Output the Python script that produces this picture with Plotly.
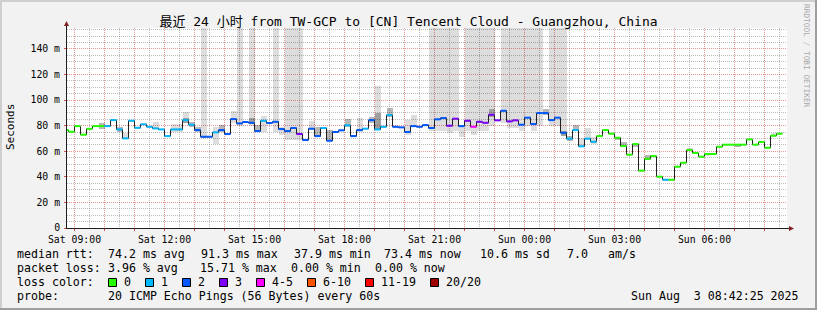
import numpy as np
import pandas as pd
import plotly.graph_objects as go

N = None
# ---------------- data (12-minute steps, first step starts Sat 2025-08-02 08:36) ----------------
median_ms = [76.5, 75.2, 79.6, 72.9, 77.5, 79.6, 79.6, 79.6, 84.3, 77.0,
             70.0, 83.8, 78.3, 81.0, 79.1, 77.8, 77.0, 71.8, 77.0, 77.0,
             84.3, 80.7, 76.5, 71.3, 71.3, 74.7, 76.5, 73.4, 85.1, 81.7,
             82.8, 82.2, 75.7, 83.8, 82.0, 83.0, 77.3, 75.7, 78.1, 73.4,
             68.7, 77.6, 71.8, 78.1, 68.2, 75.0, 76.3, 80.2, 71.8, 76.5,
             77.6, 84.3, 77.0, 79.1, 88.2, 79.1, 78.6, 75.0, 79.6, 79.1,
             80.4, 78.1, 84.9, 85.9, 79.9, 85.4, 79.6, 83.8, 79.1, 83.0,
             82.2, 88.5, 84.1, 91.6, 83.3, 84.1, 80.7, 86.2, 81.2, 89.8,
             89.8, 84.3, 86.2, 74.4, 69.8, 76.5, 63.8, 69.8, 67.4, 71.8,
             76.5, 73.7, 70.5, 64.0, 57.3, 65.6, 44.8, 54.1, 56.2, 40.1,
             37.7, 37.7, 47.9, 51.0, 60.9, 58.6, 55.7, 57.8, 57.8, 63.5,
             65.1, 65.1, 65.1, 65.1, 69.2, 65.1, 67.2, 62.7, 72.1, 73.7]

loss_pings = [0, 0, 0, 0, 0, 0, 0, 1, 1, 1,
              1, 1, 1, 1, 1, 1, 1, 1, 1, 1,
              1, 1, 2, 2, 2, 1, 2, 2, 2, 2,
              2, 2, 2, 1, 2, 2, 2, 2, 2, 3,
              2, 2, 2, 1, 2, 2, 2, 1, 2, 2,
              1, 2, 1, 1, 1, 2, 2, 2, 2, 2,
              2, 2, 2, 2, 3, 3, 2, 3, 4, 3,
              3, 3, 3, 2, 3, 3, 2, 2, 2, 2,
              2, 2, 2, 2, 1, 1, 1, 1, 1, 0,
              0, 0, 0, 0, 0, 0, 0, 0, 0, 0,
              1, 0, 0, 0, 0, 0, 0, 0, 0, 0,
              0, 0, 0, 0, 0, 0, 0, 0, 0, 0]

smoke_lo = [N, N, N, N, N, N, N, N, N, N,
            69.2, N, N, N, N, 77.0, N, N, 75.2, 75.2,
            81.7, N, N, 70.0, N, 66.0, N, N, 81.7, 80.0,
            N, 80.0, N, 75.2, N, 75.2, 72.6, 69.0, 69.0, 69.0,
            N, 76.5, N, N, N, N, N, N, N, 75.2,
            N, N, 76.5, N, N, N, N, 72.6, 79.1, N,
            N, 76.0, 76.0, 76.0, 73.9, 76.0, 71.3, 76.0, 72.6, 76.0,
            76.0, 80.0, N, 82.0, 78.0, 78.0, 76.0, 80.0, 76.0, 80.0,
            N, 80.0, 80.0, 72.0, N, N, 63.5, 70.0, 66.0, N,
            N, N, N, N, N, N, N, N, N, N,
            N, N, N, N, 60.0, N, N, 56.0, N, N,
            N, N, N, N, N, N, N, N, 72.0, N]
smoke_hi = [N, N, N, N, N, N, N, N, N, N,
            74.4, N, N, N, N, 83.0, N, N, 81.0, 81.0,
            90.3, N, N, 200, N, 79.0, N, N, 91.6, 200,
            N, 200, N, 87.7, N, 200, 79.0, 200, 200, 200,
            N, 83.8, N, N, N, N, N, N, N, 86.2,
            N, N, 110.6, N, N, N, N, 84.3, 88.2, N,
            N, 200, 200, 200, 200, 200, 80.0, 200, 200, 200,
            200, 200, N, 200, 200, 200, 200, 200, 200, 200,
            N, 200, 200, 200, N, N, 70.0, 77.8, 71.0, N,
            N, N, N, N, N, N, N, N, N, N,
            N, N, N, N, 62.5, N, N, 58.5, N, N,
            N, N, N, N, N, N, N, N, 74.0, N]
core_lo = [N, N, N, N, N, N, 77.3, N, N, 75.2,
           N, N, N, N, N, N, N, N, N, N,
           82.0, 79.0, 75.0, N, N, N, 75.2, N, N, N,
           N, 81.0, 75.2, N, N, N, N, N, N, N,
           N, N, 71.0, N, 68.2, N, N, 79.1, N, N,
           N, 82.0, 76.5, N, 86.9, N, N, N, N, N,
           N, N, N, N, N, N, N, N, N, N,
           N, 87.0, N, N, N, N, N, N, N, N,
           88.0, N, N, 72.0, 68.0, 76.5, N, N, N, N,
           N, N, 68.5, 64.0, N, 63.5, N, 53.0, N, N,
           N, N, N, N, N, N, N, N, N, N,
           N, N, 63.5, N, N, N, N, N, N, N]
core_hi = [N, N, N, N, N, N, 82.3, N, N, 78.6,
           N, N, N, N, N, N, N, N, N, N,
           86.0, 83.0, 79.0, N, N, N, 80.4, N, N, N,
           N, 86.0, 80.4, N, N, N, N, N, N, N,
           N, N, 79.0, N, 76.5, N, N, 84.9, N, N,
           N, 87.0, 90.0, N, 93.4, N, N, N, N, N,
           N, N, N, N, N, N, N, N, N, N,
           N, 93.0, N, N, N, N, N, N, N, N,
           93.0, N, N, 76.0, 72.0, 80.4, N, N, N, N,
           N, N, 71.0, 67.0, N, 66.0, N, 57.0, N, N,
           N, N, N, N, N, N, N, N, N, N,
           N, N, 65.5, N, N, N, N, N, N, N]

loss_labels = ["0", "1", "2", "3", "4-5", "6-10", "11-19", "20/20"]
loss_upper = [0, 1, 2, 3, 5, 10, 19, 20]
loss_colors = ["#26ff00", "#00b8ff", "#0059ff", "#7e00ff", "#ff00ff", "#ff5500", "#ff0000", "#a10000"]

y_tick_vals = [0, 20, 40, 60, 80, 100, 120, 140]
y_tick_text = ["0", "20 m", "40 m", "60 m", "80 m", "100 m", "120 m", "140 m"]
x_tick_labels = ["Sat 09:00", "Sat 12:00", "Sat 15:00", "Sat 18:00",
                 "Sat 21:00", "Sun 00:00", "Sun 03:00", "Sun 06:00"]

title_text = "最近 24 小时 from TW-GCP to [CN] Tencent Cloud - Guangzhou, China"
rtt_stats = ["74.2 ms avg", "91.3 ms max", "37.9 ms min", "73.4 ms now", "10.6 ms sd", "7.0", "am/s"]
loss_stats = ["3.96 % avg", "15.71 % max", "0.00 % min", "0.00 % now"]
probe_text = "20 ICMP Echo Pings (56 Bytes) every 60s"
stamp_text = "Sun Aug\u00a0 3 08:42:25 2025"
watermark = "RRDTOOL / TOBI OETIKER"

# ---------------- geometry ----------------
W, H = 817, 310
PL, PW, PT, PH = 67, 720, 28, 200
PB = PT + PH
YMAX = 156.25
MONO = "DejaVu Sans Mono"


def pp(xp, yp):
    return (xp - PL) / PW, (PB - yp) / PH


first = pd.Timestamp("2025-08-02 08:36:00")
step = pd.Timedelta(minutes=12)
n = len(median_ms)
starts = [first + step * i for i in range(n)]
ends = [s + step for s in starts]
centers = [s + step / 2 for s in starts]
x_start = pd.Timestamp("2025-08-02 08:45:00")
x_end = x_start + pd.Timedelta(hours=24)

def fmt(t):
    return t.strftime("%Y-%m-%d %H:%M:%S")

fig = go.Figure()

# smoke (semi-transparent so the grid shows through, as in rrdtool)
for lo_arr, hi_arr, col in [(smoke_lo, smoke_hi, "rgba(0,0,0,0.135)"),
                            (core_lo, core_hi, "rgba(0,0,0,0.28)")]:
    xs, bs, hs = [], [], []
    for i in range(n):
        if lo_arr[i] is not None:
            xs.append(fmt(centers[i]))
            bs.append(lo_arr[i])
            hs.append(hi_arr[i] - lo_arr[i])
    fig.add_trace(go.Bar(x=xs, y=hs, base=bs, width=12 * 60 * 1000,
                         marker=dict(color=col, line=dict(width=0)),
                         hoverinfo="skip", showlegend=False))

# black stepped median line
fig.add_trace(go.Scatter(x=[fmt(s) for s in starts] + [fmt(ends[-1])],
                         y=median_ms + [median_ms[-1]],
                         mode="lines", line=dict(color="#1f1f1f", width=1, shape="hv"),
                         hoverinfo="skip", showlegend=False))

# coloured median segments by loss class
def loss_class(v):
    for j, u in enumerate(loss_upper):
        if v <= u:
            return j
    return len(loss_upper) - 1

for j, col in enumerate(loss_colors):
    xs, ys = [], []
    for i in range(n):
        if loss_class(loss_pings[i]) == j:
            xs += [fmt(starts[i]), fmt(ends[i]), None]
            ys += [median_ms[i], median_ms[i], None]
    if xs:
        fig.add_trace(go.Scatter(x=xs, y=ys, mode="lines",
                                 line=dict(color=col, width=2),
                                 hoverinfo="skip", showlegend=False))

# ---------------- axes ----------------
hours = pd.date_range("2025-08-02 09:00", "2025-08-03 08:00", freq="1h")
halves = pd.date_range("2025-08-02 09:30", "2025-08-03 08:30", freq="1h")
hour_text = []
k = 0
for h in hours:
    if h.hour % 3 == 0:
        hour_text.append(x_tick_labels[k]); k += 1
    else:
        hour_text.append("")

MGRID = "rgba(222,79,79,0.6)"
GRID = "rgba(143,143,143,0.6)"

fig.update_xaxes(type="date", range=[fmt(x_start), fmt(x_end)],
                 tickmode="array", tickvals=[fmt(h) for h in hours], ticktext=hour_text,
                 showgrid=True, gridcolor=MGRID, griddash="1px,1px", gridwidth=1,
                 ticks="outside", ticklen=2, tickcolor="rgb(222,79,79)",
                 minor=dict(tickmode="array", tickvals=[fmt(h) for h in halves],
                            showgrid=True, gridcolor=GRID, griddash="1px,1px", ticks=""),
                 showline=True, linecolor="#1f1f1f", linewidth=1, zeroline=False,
                 tickfont=dict(family=MONO, size=9.8, color="black"),
                 automargin=False, fixedrange=True)
minor_y = [v for v in np.arange(5, 160, 5) if v % 20 != 0]
fig.update_yaxes(range=[0, YMAX], tickmode="array", tickvals=y_tick_vals, ticktext=y_tick_text,
                 showgrid=True, gridcolor=MGRID, griddash="1px,1px",
                 ticks="outside", ticklen=2, tickcolor="rgb(222,79,79)",
                 minor=dict(tickmode="array", tickvals=minor_y, showgrid=True,
                            gridcolor=GRID, griddash="1px,1px", ticks=""),
                 showline=True, linecolor="#1f1f1f", linewidth=1, zeroline=False,
                 ticklabelstandoff=2,
                 tickfont=dict(family=MONO, size=9.8, color="black"),
                 automargin=False, fixedrange=True)

# ---------------- shapes: frame, arrows, legend boxes ----------------
shapes = []

def rect_px(x0, y0, x1, y1, fill, line=None):
    a = pp(x0, y0); b = pp(x1, y1)
    d = dict(type="rect", xref="paper", yref="paper", x0=a[0], y0=b[1], x1=b[0], y1=a[1],
             fillcolor=fill, line=dict(width=0), layer="above")
    if line:
        d["line"] = dict(color=line, width=1)
    return d

def path_px(pts, fill):
    s = ""
    for k2, (xp, yp) in enumerate(pts):
        a = pp(xp, yp)
        s += ("M" if k2 == 0 else "L") + f"{a[0]:.6f},{a[1]:.6f}"
    return dict(type="path", xref="paper", yref="paper", path=s + "Z",
                fillcolor=fill, line=dict(width=0), layer="above")

shapes.append(rect_px(0, 0, W, 2, "#cfcfcf"))
shapes.append(rect_px(0, 0, 2, H, "#cfcfcf"))
shapes.append(rect_px(W - 2, 0, W, H, "#9e9e9e"))
shapes.append(rect_px(0, H - 2, W, H, "#9e9e9e"))
# axis extensions + arrows
shapes.append(rect_px(66, 25, 67, 28, "#1f1f1f"))
shapes.append(path_px([(66.5, 21.0), (64.0, 26.0), (69.0, 26.0)], "#801f1f"))
shapes.append(rect_px(787, 228, 790, 229, "#1f1f1f"))
shapes.append(path_px([(794.0, 228.5), (789.0, 226.0), (789.0, 231.0)], "#801f1f"))

annotations = []

def text_px(xp, yp, txt, size=11.6, anchor="left", color="black", angle=0, family=MONO):
    a = pp(xp, yp)
    annotations.append(dict(x=a[0], y=a[1], xref="paper", yref="paper", text=txt,
                            showarrow=False, xanchor=anchor, yanchor="middle",
                            textangle=angle, borderpad=0,
                            font=dict(family=family, size=size, color=color)))

# legend rows
row_y = [254.3, 268.3, 282.0, 296.0]
text_px(16, row_y[0], "median rtt:")
for t, xp in zip(rtt_stats, [107.3, 200, 293.3, 382.7, 479.3, 565.7, 607.3]):
    text_px(xp, row_y[0], t)
text_px(16, row_y[1], "packet loss:")
for t, xp in zip(loss_stats, [107.3, 199.3, 290, 373.5]):
    text_px(xp, row_y[1], t)
text_px(16, row_y[2], "loss color:")
cursor = 108.0
for lab, col in zip(loss_labels, loss_colors):
    shapes.append(rect_px(cursor + 0.5, row_y[2] - 3.5, cursor + 8.5, row_y[2] + 4.5, col, line="black"))
    text_px(cursor + 15, row_y[2], lab)
    cursor = cursor + 15 + 7 * len(lab) + 15
text_px(16, row_y[3], "probe:")
text_px(107.3, row_y[3], probe_text)
text_px(800, row_y[3], stamp_text, anchor="right")

# y axis title and watermark
text_px(10, 127, "Seconds", size=11, angle=-90, anchor="center")
text_px(807, 56, watermark, size=7.8, color="#a8a8a8", angle=90, anchor="center")

fig.update_layout(
    width=W, height=H,
    margin=dict(l=PL, r=W - PL - PW, t=PT, b=H - PB, pad=0),
    paper_bgcolor="#f2f2f2", plot_bgcolor="white",
    barmode="overlay", bargap=0, showlegend=False,
    title=dict(text=title_text, x=408.5 / W, xref="container", xanchor="center",
               y=1 - 21 / H, yref="container", yanchor="middle",
               font=dict(family=MONO + ", Noto Sans CJK SC", size=13, color="black")),
    shapes=shapes, annotations=annotations,
)

fig.write_html("out.html", config={"displayModeBar": False, "staticPlot": True})
